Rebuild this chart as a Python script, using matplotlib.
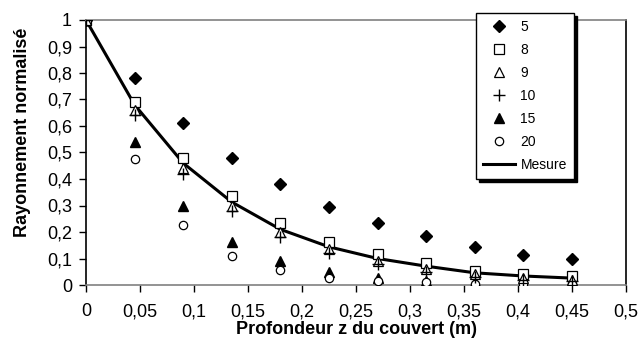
import matplotlib
matplotlib.use("Agg")
import matplotlib.pyplot as plt
from matplotlib.ticker import MultipleLocator, FuncFormatter

plt.rcParams['font.family'] = ['Liberation Sans', 'DejaVu Sans']

# profondeur (m)
z = [0, 0.045, 0.09, 0.135, 0.18, 0.225, 0.27, 0.315, 0.36, 0.405, 0.45]

# rayonnement normalisé par série
s5 = [1, 0.78, 0.61, 0.48, 0.38, 0.295, 0.234, 0.184, 0.143, 0.113, 0.098]
s8 = [1, 0.69, 0.48, 0.335, 0.234, 0.163, 0.116, 0.082, 0.054, 0.041, 0.034]
s9 = [1, 0.66, 0.44, 0.30, 0.20, 0.135, 0.09, 0.06, 0.04, 0.025, 0.02]
s10 = [1, 0.64, 0.42, 0.28, 0.18, 0.12, 0.08, 0.05, 0.03, 0.02, 0.015]
s15 = [1, 0.54, 0.30, 0.163, 0.09, 0.048, 0.028, 0.015, 0.01, 0.005, 0.005]
s20 = [1, 0.475, 0.225, 0.11, 0.055, 0.028, 0.015, 0.01, 0.005, 0.003, 0.002]
mesure = [1, 0.68, 0.46, 0.313, 0.21, 0.144, 0.10, 0.071, 0.046, 0.034, 0.026]

fig = plt.figure(figsize=(6.39, 3.39), dpi=100)
ax = fig.add_axes([86/639, 54/339, 540/639, 265/339])

ms = 7
ax.plot(z, s5, 'D', color='black', ms=6, label='5', zorder=3)
ax.plot(z, s8, 's', mfc='white', mec='black', mew=0.9, ms=ms, label='8', zorder=4)
ax.plot(z, s9, '^', mfc='white', mec='black', mew=0.9, ms=ms, label='9', zorder=4)
ax.plot(z, s10, '+', color='black', mew=1.0, ms=ms + 1, label='10', zorder=4)
ax.plot(z, s15, '^', color='black', ms=ms, label='15', zorder=3)
ax.plot(z, s20, 'o', mfc='white', mec='black', mew=0.9, ms=6, label='20', zorder=3)
ax.plot(z, mesure, '-', color='black', lw=2.2, label='Mesure', zorder=2)

ax.set_xlim(0, 0.5)
ax.set_ylim(0, 1)
ax.xaxis.set_major_locator(MultipleLocator(0.05))
ax.yaxis.set_major_locator(MultipleLocator(0.1))
fmt = FuncFormatter(lambda v, p: ('%g' % round(v, 2)).replace('.', ','))
ax.xaxis.set_major_formatter(fmt)
ax.yaxis.set_major_formatter(fmt)
ax.tick_params(direction='out', length=5, width=1, labelsize=13, color='black')
ax.tick_params(axis='x', pad=8)
ax.tick_params(axis='y', pad=5)

ax.spines['left'].set_color('black')
ax.spines['right'].set_color('black')
ax.spines['bottom'].set_color('#808080')
ax.spines['top'].set_color('#808080')
for s in ax.spines.values():
    s.set_linewidth(1.2)

ax.set_xlabel('Profondeur z du couvert (m)', fontsize=13, fontweight='bold',
              va='bottom')
ax.xaxis.set_label_coords(0.5, -0.2)
fig.text(23/639, 1 - 132/339, 'Rayonnement normalisé', fontsize=13,
         fontweight='bold', rotation=90, ha='center', va='center')

leg = fig.legend(loc='upper left', bbox_to_anchor=(476/639, 1 - 13/339),
                 fontsize=10, frameon=True, fancybox=False,
                 shadow={'color': 'black', 'alpha': 1},
                 edgecolor='black', borderpad=0.5, labelspacing=0.65,
                 handlelength=2.3, handletextpad=0.4, borderaxespad=0)
leg.get_frame().set_linewidth(1.0)

fig.savefig('out.png', dpi=100)
